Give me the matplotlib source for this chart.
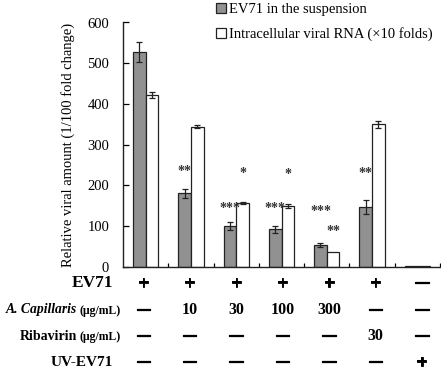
import matplotlib
matplotlib.use("Agg")
import matplotlib.pyplot as plt
import matplotlib.transforms as mtransforms
import matplotlib.patheffects as pe
import numpy as np

plt.rcParams['font.family'] = ['Liberation Serif', 'DejaVu Serif']

# ---- data ----
groups = ["G1", "G2", "G3", "G4", "G5", "G6", "G7"]
suspension = [527, 180, 100, 92, 53, 147, 1]
suspension_err = [25, 12, 11, 8, 5, 17, 0]
intracellular = [422, 344, 157, 150, 37, 350, 1.5]
intracellular_err = [7, 4, 3, 5, 0, 8, 0]
legend_labels = ["EV71 in the suspension", "Intracellular viral RNA (×10 folds)"]
y_ticks = [0, 100, 200, 300, 400, 500, 600]
y_label = "Relative viral amount (1/100 fold change)"

# significance marks: (group index, series 0=gray/1=white, label, height)
sig_group = [1, 2, 2, 3, 3, 4, 4, 5]
sig_series = [0, 0, 1, 0, 1, 0, 1, 0]
sig_text = ["**", "***", "*", "***", "*", "***", "**", "**"]
sig_height = [235, 144, 229, 144, 227, 135, 86, 230]

row_ev71 = ["+", "+", "+", "+", "+", "+", "—"]
row_capillaris = ["—", "10", "30", "100", "300", "—", "—"]
row_ribavirin = ["—", "—", "—", "—", "—", "30", "—"]
row_uv = ["—", "—", "—", "—", "—", "—", "+"]

# ---- figure ----
W, H = 441, 370
fig = plt.figure(figsize=(W / 100, H / 100), dpi=100)
ax = fig.add_axes([123 / W, 1 - 266.7 / H, 317 / W, (266.7 - 22.5) / H])

x = np.arange(len(groups))
bw = 0.28
gray = "#919191"
ax.bar(x - bw / 2, suspension, bw, color=gray, edgecolor="#222222", linewidth=0.9,
       label=legend_labels[0], zorder=2)
ax.bar(x + bw / 2, intracellular, bw, color="white", edgecolor="#222222", linewidth=0.9,
       label=legend_labels[1], zorder=2)
for xs, v, e in [(x - bw / 2, suspension, suspension_err), (x + bw / 2, intracellular, intracellular_err)]:
    for xi, vi, ei in zip(xs, v, e):
        if ei > 0:
            ax.errorbar(xi, vi, yerr=ei, fmt="none", ecolor="#222222", elinewidth=0.9,
                        capsize=2.2, capthick=0.9, zorder=3)

for g, s, t, h in zip(sig_group, sig_series, sig_text, sig_height):
    xx = g - bw / 2 if s == 0 else g + bw / 2
    ax.text(xx, h, t, ha="center", va="center", fontsize=10, fontweight="bold", color="#333333")

ax.set_xlim(-0.5, len(groups) - 0.5)
ax.set_ylim(0, 600)
ax.set_yticks(y_ticks)
ax.set_yticklabels([str(v) for v in y_ticks], fontsize=10.5)
ax.set_xticks(np.arange(len(groups)) + 0.5)
ax.set_xticklabels([])
ax.tick_params(axis="y", direction="in", length=4, width=0.9, pad=10)
ax.tick_params(axis="x", direction="in", length=3, width=0.9)
for sp in ["top", "right"]:
    ax.spines[sp].set_visible(False)
for sp in ["left", "bottom"]:
    ax.spines[sp].set_linewidth(1.0)
    ax.spines[sp].set_color("#222222")
ax.set_ylabel(y_label, fontsize=10.5)
ax.yaxis.set_label_coords(-0.151, 0.5)

fig.legend(loc="upper left", bbox_to_anchor=(209 / W, 1 + 4 / H), frameon=False, fontsize=10.5,
           borderpad=0, labelspacing=0.75, handlelength=0.65, handleheight=0.65,
           handletextpad=0.25)

# ---- condition table ----
trans = mtransforms.blended_transform_factory(ax.transData, fig.transFigure)
rows = [row_ev71, row_capillaris, row_ribavirin, row_uv]
row_y = [283, 310, 336, 362]
for ry, vals in zip(row_y, rows):
    for i, v in enumerate(vals):
        xi = -0.05 + i * 1.025
        if v == "—":
            ax.text(xi, 1 - ry / H, v, transform=trans, ha="center", va="center",
                    fontsize=9.5, fontweight="bold", clip_on=False,
                    path_effects=[pe.withStroke(linewidth=0.9, foreground="black")])
        elif v == "+":
            ax.text(xi, 1 - (ry + 1) / H, v, transform=trans, ha="center", va="center",
                    fontsize=14, fontweight="bold", clip_on=False,
                    path_effects=[pe.withStroke(linewidth=0.6, foreground="black")])
        else:
            ax.text(xi, 1 - ry / H, v, transform=trans, ha="center", va="center",
                    fontsize=11.5, fontweight="bold", clip_on=False)

def ftext(px, py, s, **kw):
    return fig.text(px / W, 1 - py / H, s, va="center", fontweight="bold", **kw)

ftext(113, 283, "EV71", ha="right", fontsize=12.5)
ftext(113, 362, "UV-EV71", ha="right", fontsize=11)

renderer = fig.canvas.get_renderer()
for py, main, mfs, mstyle in [(310, "A. Capillaris", 9.8, "italic"), (336, "Ribavirin", 10, "normal")]:
    unit = ftext(121, py + 1, "(μg/mL)", ha="right", fontsize=8.5)
    bb = unit.get_window_extent(renderer)
    ftext(bb.x0 - 3, py, main, ha="right", fontsize=mfs, style=mstyle)

fig.savefig("out.png", dpi=100, facecolor="white")
